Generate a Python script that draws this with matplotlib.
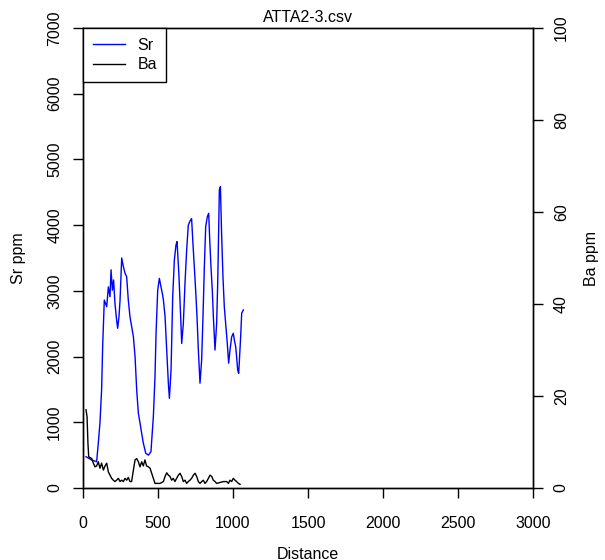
import matplotlib
matplotlib.use('Agg')
import matplotlib.pyplot as plt

plt.rcParams['font.family'] = ['Liberation Sans', 'DejaVu Sans']

# Sr (left axis)
sr_dist = [20, 58, 91, 102, 113, 124, 131, 142, 158, 169, 180, 187, 196, 204, 213,
           224, 231, 240, 247, 258, 269, 280, 291, 302, 313, 336, 347, 358, 369, 380,
           391, 402, 418, 436, 453, 469, 480, 487, 498, 509, 520, 529, 536, 547, 558,
           569, 576, 587, 598, 609, 620, 627, 640, 651, 658, 669, 680, 691, 702, 713,
           724, 733, 742, 751, 760, 769, 780, 791, 800, 809, 818, 829, 838, 844, 853,
           862, 869, 880, 891, 898, 904, 909, 916, 924, 933, 942, 951, 962, 971, 980,
           991, 1002, 1009, 1018, 1024, 1031, 1038, 1044, 1051, 1058, 1069]
sr_ppm = [476, 426, 400, 685, 990, 1490, 2150, 2860, 2760, 3060, 2910, 3320, 3010, 3165, 2810,
          2560, 2430, 2610, 2860, 3500, 3370, 3270, 3215, 2860, 2610, 2300, 2000, 1490, 1140, 990,
          835, 685, 530, 500, 553, 1085, 1695, 2355, 3010, 3190, 3060, 2960, 2860, 2610, 2100,
          1595, 1365, 1795, 2910, 3470, 3700, 3750, 3215, 2610, 2200, 2505, 3115, 3620, 4000, 4060,
          4100, 3720, 3370, 3010, 2610, 2100, 1595, 1950, 2610, 3370, 3975, 4130, 4180, 3820, 3370,
          3010, 2610, 2100, 2505, 3115, 3875, 4535, 4585, 3875, 3215, 2760, 2505, 2200, 1900, 2100,
          2300, 2355, 2250, 2150, 2000, 1795, 1745, 2000, 2300, 2660, 2710]

# Ba (right axis)
ba_dist = [20, 27, 33, 38, 58, 69, 80, 91, 102, 113, 124, 136, 147, 158, 169, 180, 191, 202,
           213, 224, 236, 247, 258, 269, 280, 291, 302, 313, 324, 336, 347, 358, 369, 380,
           391, 402, 413, 424, 436, 447, 458, 469, 480, 491, 513, 536, 547, 558, 569, 580,
           591, 602, 613, 624, 636, 647, 658, 669, 680, 691, 702, 713, 724, 736, 747, 758,
           769, 780, 791, 802, 813, 824, 836, 847, 858, 869, 880, 891, 913, 936, 958, 969,
           980, 991, 1002, 1013, 1024, 1036, 1047]
ba_ppm = [17, 15.5, 9.7, 6.8, 6.4, 5.4, 4.6, 4.8, 5.7, 4.3, 5.4, 3.9, 4.8, 5.4, 3.5, 2.8, 2.1, 1.7,
          1.4, 1.7, 2.1, 1.4, 1.7, 1.4, 2.1, 1.7, 2.3, 1.4, 1.4, 3.9, 6.1, 6.4, 5.7, 4.6,
          5.7, 4.8, 6.1, 4.8, 4.6, 4.3, 3.2, 2.1, 1.0, 1.0, 1.0, 1.4, 2.5, 3.3, 2.8, 2.5,
          1.7, 2.1, 1.4, 2.1, 2.8, 3.2, 2.5, 1.4, 1.7, 1.0, 1.4, 1.7, 2.1, 2.8, 3.2, 2.5,
          1.4, 1.0, 1.4, 1.7, 1.0, 1.4, 2.1, 2.8, 2.5, 1.7, 1.4, 1.0, 1.2, 1.4, 1.4, 1.0,
          1.7, 1.4, 2.1, 1.7, 1.4, 1.0, 0.8]

fs = 11.5
fig = plt.figure(figsize=(6.05, 5.6), dpi=100)
ax1 = fig.add_axes([83 / 605, 1 - 488 / 560, 450 / 605, 460 / 560])
ax2 = ax1.twinx()

l1, = ax1.plot(sr_dist, sr_ppm, color='#0000ff', lw=1)
l2, = ax2.plot(ba_dist, ba_ppm, color='black', lw=1)

ax1.set_xlim(0, 3000)
ax1.set_ylim(0, 7000)
ax2.set_ylim(0, 100)
ax1.set_xticks(range(0, 3001, 500))
ax1.set_yticks(range(0, 7001, 1000))
ax2.set_yticks(range(0, 101, 20))

ax1.tick_params(axis='x', direction='out', length=7, width=1, pad=13, labelsize=fs)
ax1.tick_params(axis='y', direction='out', length=7, width=1, pad=8, labelsize=fs)
ax2.tick_params(axis='y', direction='out', length=7, width=1, pad=8, labelsize=fs)
for lab in ax1.get_yticklabels():
    lab.set_rotation(90)
    lab.set_va('center')
for lab in ax2.get_yticklabels():
    lab.set_rotation(90)
    lab.set_va('center')

for ax in (ax1, ax2):
    for s in ax.spines.values():
        s.set_linewidth(1)
        s.set_color('black')

ax1.set_xlabel('Distance', fontsize=fs, labelpad=12)
ax1.set_ylabel('Sr ppm', fontsize=fs, labelpad=15)
ax2.set_ylabel('Ba ppm', fontsize=fs, labelpad=11)
ax1.set_title('ATTA2-3.csv', fontsize=fs, pad=4)

leg = ax2.legend([l1, l2], ['Sr', 'Ba'], loc='upper left', borderaxespad=0,
                 fancybox=False, framealpha=1, edgecolor='black', fontsize=fs,
                 handlelength=2.0, borderpad=0.6, labelspacing=0.3)
leg.get_frame().set_linewidth(1)

fig.savefig('out.png', dpi=100)
